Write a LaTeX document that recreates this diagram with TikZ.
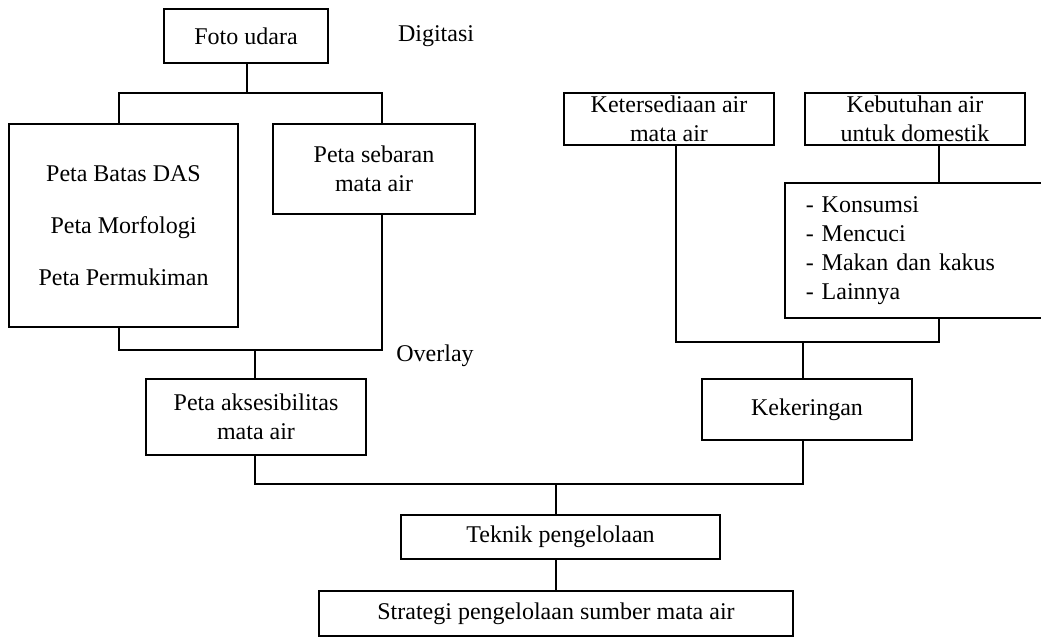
\documentclass[tikz,border=0pt]{standalone}
\usepackage{fontspec}
\setmainfont{Liberation Serif}
\begin{document}
\begin{tikzpicture}[x=1pt,y=-1pt,
  box/.style={draw,line width=1.5pt,inner sep=0pt,align=center,font=\fontsize{24pt}{29pt}\selectfont},
  lbl/.style={inner sep=0pt,font=\fontsize{24pt}{29pt}\selectfont},
  conn/.style={line width=1.5pt}]
\useasboundingbox (0,0) rectangle (1041,637);
\clip (0,0) rectangle (1041,637);
% nodes
\node[box,minimum width=164pt,minimum height=54pt] (foto) at (246,36) {Foto udara};
\node[lbl] (digit) at (436,36) {Digitasi};
\node[box,minimum width=229pt,minimum height=203pt] (peta) at (123.5,225.5) {Peta Batas DAS\\[23pt]Peta Morfologi\\[23pt]Peta Permukiman};
\node[box,minimum width=202pt,minimum height=90pt] (sebaran) at (374,169) {Peta sebaran\\mata air};
\node[lbl] (overlay) at (435,356) {Overlay};
\node[box,minimum width=220pt,minimum height=76pt] (akses) at (256,417) {Peta aksesibilitas\\mata air};
\node[box,minimum width=210pt,minimum height=52pt] (keters) at (669,119) {Ketersediaan air\\mata air};
\node[box,minimum width=220pt,minimum height=52pt] (kebut) at (915,119) {Kebutuhan air\\untuk domestik};
\node[box,anchor=west,inner xsep=21pt,text width=219pt,align=left,minimum height=135pt] (list) at (784,250.5) {- Konsumsi\\- Mencuci\\- Makan dan kakus\\- Lainnya};
\node[box,minimum width=210pt,minimum height=61pt] (keker) at (807,409.5) {Kekeringan};
\node[box,minimum width=319pt,minimum height=44pt] (teknik) at (560.5,537) {Teknik pengelolaan};
\node[box,minimum width=474pt,minimum height=45pt] (strategi) at (556,613.5) {Strategi pengelolaan sumber mata air};
% junctions
\coordinate (t1) at (119,93);
\coordinate (t2) at (382,93);
\coordinate (b1) at (119,350);
\coordinate (b2) at (382,350);
\coordinate (r1) at (676,342);
\coordinate (r2) at (939,342);
\coordinate (m1) at (255,484);
\coordinate (m2) at (803,484);
% connectors
\draw[conn] (foto.south -| 247,0) -- (247,93);
\draw[conn] (peta.north -| t1) -- (t1) -- (t2) -- (sebaran.north -| t2);
\draw[conn] (peta.south -| b1) -- (b1) -- (b2) -- (sebaran.south -| b2);
\draw[conn] (akses.north -| 255,0) -- (255,350);
\draw[conn] (keters.south -| r1) -- (r1) -- (r2) -- (list.south -| r2);
\draw[conn] (kebut.south -| r2) -- (list.north -| r2);
\draw[conn] (keker.north -| m2) -- (803,342);
\draw[conn] (akses.south -| m1) -- (m1) -- (m2) -- (keker.south -| m2);
\draw[conn] (teknik.north -| 556,0) -- (556,484);
\draw[conn] (teknik.south -| 556,0) -- (strategi.north -| 556,0);
\end{tikzpicture}
\end{document}
